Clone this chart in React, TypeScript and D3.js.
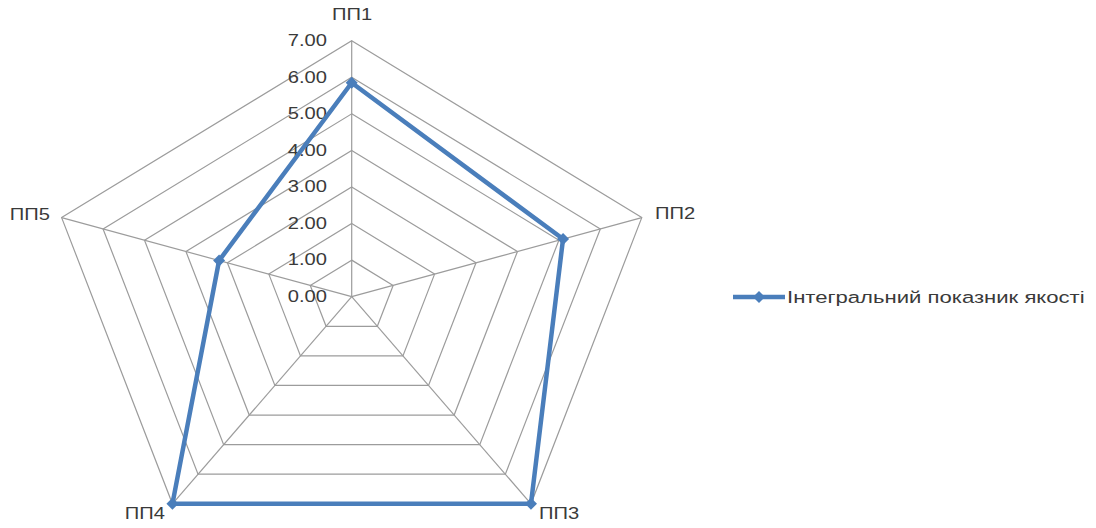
import React from "react";
import * as d3 from "d3";

const categories = ["ПП1", "ПП2", "ПП3", "ПП4", "ПП5"];
const values = [5.85, 5.1, 7.0, 7.0, 3.2];
const seriesName = "Інтегральний показник якості";
const tickValues = [0, 1, 2, 3, 4, 5, 6, 7];

const W = 1096;
const H = 528;
const cx = 351.7;
const cy = 296.7;
const rx = 305; // horizontal radius of the outer ring
const ry = 256; // vertical radius of the outer ring
const maxV = 7;
const blue = "#4a7ebb";
const gridColor = "#9c9c9c";
const textColor = "#3a3a3a";
const fontFamily = "'Liberation Sans', Arial, sans-serif";

const angle = d3
  .scaleBand<string>()
  .domain(categories)
  .range([0, 2 * Math.PI])
  .align(0)
  .paddingInner(0)
  .paddingOuter(0);
const rScale = d3.scaleLinear().domain([0, maxV]).range([0, 1]);

function pt(cat: string, v: number): [number, number] {
  const a = angle(cat)!;
  const r = rScale(v);
  return [cx + Math.sin(a) * r * rx, cy - Math.cos(a) * r * ry];
}

function Label(props: {
  x: number;
  y: number;
  anchor: "start" | "middle" | "end";
  children: React.ReactNode;
  size?: number;
  stretch?: number;
}) {
  const { x, y, anchor, children, size = 16, stretch = 1.26 } = props;
  return (
    <text
      transform={`translate(${x},${y}) scale(${stretch},1)`}
      textAnchor={anchor}
      dominantBaseline="central"
      fontSize={size}
      fontFamily={fontFamily}
      fill={textColor}
    >
      {children}
    </text>
  );
}

export default function App() {
  const line = d3.line<[number, number]>().curve(d3.curveLinearClosed);
  const seriesPts = categories.map((c, i) => pt(c, values[i]));

  const labelPos: { x: number; y: number; anchor: "start" | "middle" | "end" }[] = [
    { x: 352, y: 15, anchor: "middle" },
    { x: 655, y: 214, anchor: "start" },
    { x: 539, y: 514, anchor: "start" },
    { x: 165, y: 514, anchor: "end" },
    { x: 50, y: 215, anchor: "end" },
  ];

  // square marker turned 45° to form a diamond
  const marker = d3.symbol(d3.symbolSquare, 72)();

  return (
    <svg
      width={W}
      height={H}
      style={{ position: "absolute", left: 0, top: 0, background: "#fff" }}
    >
      {/* rings */}
      {tickValues
        .filter((t) => t > 0)
        .map((t) => (
          <path
            key={t}
            d={line(categories.map((c) => pt(c, t))) ?? ""}
            fill="none"
            stroke={gridColor}
            strokeWidth={1.2}
          />
        ))}
      {/* spokes */}
      {categories.map((c) => {
        const [x, y] = pt(c, maxV);
        return (
          <line key={c} x1={cx} y1={cy} x2={x} y2={y} stroke={gridColor} strokeWidth={1.2} />
        );
      })}
      {/* tick labels */}
      {tickValues.map((t) => (
        <Label key={t} x={327} y={cy - rScale(t) * ry} anchor="end">
          {t.toFixed(2)}
        </Label>
      ))}
      {/* category labels */}
      {categories.map((c, i) => (
        <Label key={c} x={labelPos[i].x} y={labelPos[i].y} anchor={labelPos[i].anchor}>
          {c}
        </Label>
      ))}
      {/* series */}
      <path
        d={line(seriesPts) ?? ""}
        fill="none"
        stroke={blue}
        strokeWidth={4.5}
        strokeLinejoin="round"
      />
      {seriesPts.map(([x, y], i) => (
        <path
          key={i}
          d={marker ?? ""}
          transform={`translate(${x},${y}) rotate(45)`}
          fill={blue}
        />
      ))}
      {/* legend */}
      <line x1={733} y1={297} x2={785} y2={297} stroke={blue} strokeWidth={4.5} />
      <path d={marker ?? ""} transform="translate(759,297) rotate(45)" fill={blue} />
      <Label x={787} y={297} anchor="start" size={17} stretch={1.3}>
        {seriesName}
      </Label>
    </svg>
  );
}
